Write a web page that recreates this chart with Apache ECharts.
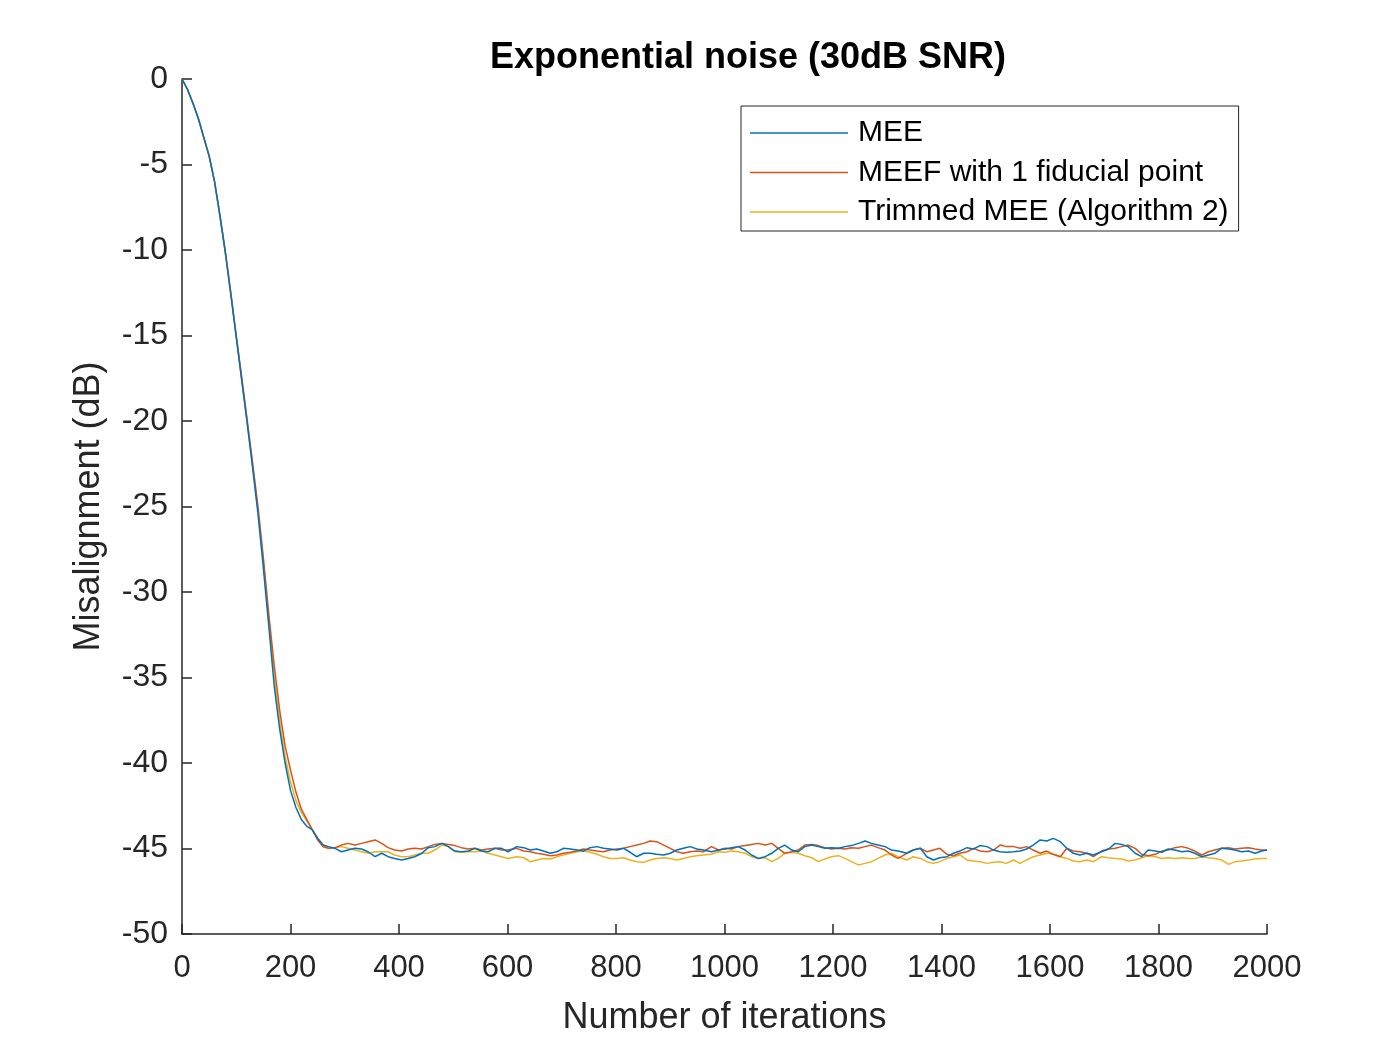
<!DOCTYPE html>
<html>
<head>
<meta charset="utf-8">
<script src="https://cdn.jsdelivr.net/npm/echarts@6/dist/echarts.min.js"></script>
<style>
html,body{margin:0;padding:0;background:#fff;}
#chart{width:1400px;height:1050px;}
</style>
</head>
<body>
<div id="chart"></div>
<script>
// ---- data ----
const titleText = 'Exponential noise (30dB SNR)';
const xAxisName = 'Number of iterations';
const yAxisName = 'Misalignment (dB)';
const seriesNames = ['MEE', 'MEEF with 1 fiducial point', 'Trimmed MEE (Algorithm 2)'];
const xTicks = [0, 200, 400, 600, 800, 1000, 1200, 1400, 1600, 1800, 2000];
const yTicks = [0, -5, -10, -15, -20, -25, -30, -35, -40, -45, -50];

const iterations = [
  0, 10, 20, 30, 40, 50, 60, 70, 80, 90, 100, 110, 120, 130, 140, 150, 160, 170, 180, 190, 200, 210, 220, 230, 240, 250, 260,
  270, 282, 294, 306, 319, 331, 343, 356, 368, 380, 392, 405, 417, 429, 442, 454, 466, 479, 491, 503, 515, 528, 540, 552, 564, 577, 589, 601,
  617, 630, 642, 654, 666, 679, 691, 703, 716, 728, 740, 752, 765, 777, 789, 802, 814, 826, 838, 851, 863, 875, 888, 900, 912, 924, 937, 949, 961,
  976, 989, 1001, 1013, 1025, 1038, 1050, 1062, 1075, 1087, 1099, 1111, 1124, 1136, 1148, 1161, 1173, 1185, 1197, 1210, 1222, 1234, 1247, 1259, 1271, 1283, 1296, 1308, 1320,
  1336, 1348, 1361, 1373, 1385, 1397, 1410, 1422, 1434, 1447, 1459, 1471, 1484, 1496, 1508, 1520, 1533, 1545, 1557, 1569, 1582, 1594, 1606, 1619, 1631, 1643, 1655, 1668, 1680,
  1695, 1708, 1720, 1732, 1744, 1757, 1769, 1781, 1794, 1806, 1818, 1830, 1843, 1855, 1867, 1880, 1892, 1904, 1916, 1929, 1941, 1953, 1966, 1978, 1990, 2000
];

const mee = [
  0, -0.6, -1.4, -2.3, -3.4, -4.5, -6.0, -8.0, -10.2, -12.6, -15.1, -17.6, -20.1, -22.7, -25.4, -28.6, -32.0, -35.5, -38.0, -40.0, -41.6, -42.6, -43.3, -43.7, -43.9, -44.4, -44.8,
  -44.89, -44.99, -45.19, -45.09, -44.99, -45.03, -45.19, -45.48, -45.28, -45.48, -45.58, -45.67, -45.58, -45.48, -45.28, -44.95, -44.89, -44.70, -44.89, -45.15, -45.19, -45.15, -44.99, -45.15, -45.19, -44.99, -44.99, -45.19,
  -44.89, -44.95, -45.09, -45.03, -45.15, -45.28, -45.19, -44.99, -45.03, -45.09, -45.15, -44.95, -44.89, -44.99, -45.03, -45.09, -44.99, -45.22, -45.48, -45.28, -45.28, -45.34, -45.38, -45.28, -45.09, -44.99, -44.89, -45.03, -45.09,
  -45.19, -45.09, -45.03, -44.95, -44.89, -45.09, -45.38, -45.58, -45.48, -45.28, -44.99, -44.80, -45.09, -45.19, -44.89, -44.80, -44.89, -44.99, -44.95, -44.99, -44.89, -44.83, -44.70, -44.56, -44.70, -44.80, -44.89, -45.09, -45.15,
  -45.28, -45.09, -44.99, -45.48, -45.67, -45.54, -45.48, -45.28, -45.15, -44.95, -45.03, -44.83, -44.89, -45.09, -45.19, -45.22, -45.19, -45.15, -45.03, -44.80, -44.50, -44.56, -44.41, -44.60, -44.99, -45.28, -45.38, -45.28, -45.38,
  -45.19, -45.03, -44.70, -44.76, -44.89, -45.28, -45.48, -45.09, -45.15, -45.22, -45.03, -45.09, -45.19, -45.15, -45.28, -45.48, -45.38, -45.28, -44.99, -45.03, -45.09, -45.19, -45.15, -45.28, -45.15, -45.09
];

const meef = [
  0, -0.6, -1.4, -2.3, -3.4, -4.5, -6.0, -8.0, -10.1, -12.5, -15.0, -17.4, -19.9, -22.4, -25.0, -28.0, -31.3, -34.3, -36.9, -39.0, -40.4, -41.7, -42.7, -43.3, -43.9, -44.5, -44.9,
  -44.99, -44.95, -44.80, -44.70, -44.80, -44.70, -44.60, -44.50, -44.70, -44.95, -45.09, -45.15, -45.03, -44.99, -45.03, -44.89, -44.76, -44.70, -44.76, -44.83, -44.95, -45.03, -44.99, -45.09, -45.03, -44.99, -45.09, -45.09,
  -44.99, -45.15, -45.19, -45.28, -45.34, -45.42, -45.38, -45.28, -45.22, -45.15, -45.03, -45.09, -45.15, -45.19, -45.09, -45.03, -44.99, -44.89, -44.80, -44.70, -44.56, -44.60, -44.80, -44.99, -45.19, -45.28, -45.19, -45.15, -45.19,
  -44.89, -45.09, -44.99, -45.03, -44.89, -44.83, -44.76, -44.70, -44.80, -44.70, -44.99, -45.28, -45.19, -45.09, -44.80, -44.76, -44.83, -44.95, -45.03, -44.99, -45.03, -44.95, -44.99, -44.89, -44.80, -44.95, -45.09, -45.38, -45.58,
  -45.28, -45.09, -44.99, -45.19, -45.09, -44.99, -45.34, -45.42, -45.28, -45.19, -44.99, -45.15, -45.19, -45.09, -44.80, -44.89, -44.89, -44.99, -44.89, -45.09, -45.28, -45.15, -45.34, -45.48, -44.99, -45.15, -45.19, -45.28, -45.48,
  -45.15, -45.03, -44.99, -44.89, -44.80, -44.99, -45.34, -45.42, -45.34, -45.15, -45.09, -44.95, -44.89, -44.99, -45.15, -45.38, -45.19, -45.09, -44.99, -44.95, -45.03, -44.99, -44.95, -45.03, -45.09, -45.09
];

const trimmed = [
  0, -0.6, -1.4, -2.3, -3.4, -4.5, -6.0, -8.0, -10.2, -12.6, -15.1, -17.6, -20.0, -22.6, -25.2, -28.3, -31.7, -34.9, -37.5, -39.6, -41.1, -42.2, -42.9, -43.4, -43.9, -44.4, -44.8,
  -44.99, -44.95, -44.89, -44.99, -45.09, -45.19, -45.28, -45.19, -45.19, -45.19, -45.38, -45.48, -45.48, -45.38, -45.28, -45.28, -45.09, -44.80, -44.89, -45.19, -45.22, -45.19, -45.19, -45.15, -45.28, -45.38, -45.48, -45.58,
  -45.48, -45.54, -45.77, -45.67, -45.58, -45.61, -45.48, -45.38, -45.28, -45.19, -45.15, -45.22, -45.34, -45.48, -45.58, -45.58, -45.54, -45.67, -45.77, -45.81, -45.67, -45.58, -45.54, -45.58, -45.67, -45.58, -45.48, -45.42, -45.38,
  -45.34, -45.19, -45.22, -45.15, -45.19, -45.28, -45.48, -45.58, -45.54, -45.77, -45.58, -45.28, -45.22, -45.28, -45.42, -45.54, -45.77, -45.61, -45.48, -45.42, -45.58, -45.77, -45.96, -45.87, -45.77, -45.58, -45.38, -45.28, -45.48,
  -45.67, -45.48, -45.58, -45.77, -45.87, -45.77, -45.58, -45.48, -45.38, -45.67, -45.73, -45.77, -45.87, -45.81, -45.77, -45.87, -45.67, -45.87, -45.67, -45.48, -45.38, -45.28, -45.34, -45.48, -45.58, -45.73, -45.77, -45.67, -45.77,
  -45.48, -45.54, -45.58, -45.61, -45.73, -45.67, -45.54, -45.42, -45.48, -45.58, -45.54, -45.58, -45.54, -45.58, -45.58, -45.48, -45.54, -45.58, -45.67, -45.93, -45.77, -45.73, -45.67, -45.61, -45.58, -45.58
];

const colors = ['#0072BD', '#D95319', '#EDB120'];

// ---- chart ----
const FONT = '"Liberation Sans", Arial, Helvetica, sans-serif';
const AXIS_COLOR = '#262626';
const chart = echarts.init(document.getElementById('chart'), null, {renderer: 'canvas'});

function pairs(vals) { return iterations.map((x, i) => [x, vals[i]]); }

const seriesData = [mee, meef, trimmed];

chart.setOption({
  backgroundColor: '#ffffff',
  animation: false,
  title: {
    text: titleText,
    left: 743,
    top: 35,
    textAlign: 'center',
    textStyle: {fontFamily: FONT, fontSize: 36, fontWeight: 'bold', color: '#000'}
  },
  grid: {left: 182, right: 133, top: 79, bottom: 116, containLabel: false},
  legend: {
    orient: 'vertical',
    left: 741,
    top: 106,
    padding: [12, 10, 4, 9],
    itemWidth: 98,
    itemHeight: 1.5,
    itemGap: 9.5,
    borderColor: AXIS_COLOR,
    borderWidth: 1,
    backgroundColor: '#fff',
    textStyle: {fontFamily: FONT, fontSize: 30, color: '#000', padding: [0, 0, 0, 5]},
    data: seriesNames.map((n) => ({name: n, icon: 'rect'}))
  },
  xAxis: {
    type: 'value',
    min: xTicks[0],
    max: xTicks[xTicks.length - 1],
    interval: xTicks[1] - xTicks[0],
    name: xAxisName,
    nameLocation: 'middle',
    nameGap: 66,
    nameTextStyle: {fontFamily: FONT, fontSize: 36, color: AXIS_COLOR},
    axisLine: {show: true, onZero: false, lineStyle: {color: AXIS_COLOR, width: 1.5}},
    axisTick: {show: true, inside: true, length: 10, lineStyle: {color: AXIS_COLOR, width: 1.5}},
    axisLabel: {fontFamily: FONT, fontSize: 31, color: AXIS_COLOR, margin: 19, formatter: (v) => String(v)},
    splitLine: {show: false}
  },
  yAxis: {
    type: 'value',
    min: yTicks[yTicks.length - 1],
    max: yTicks[0],
    interval: 5,
    name: yAxisName,
    nameLocation: 'middle',
    nameGap: 75,
    nameTextStyle: {fontFamily: FONT, fontSize: 36, color: AXIS_COLOR},
    axisLine: {show: true, onZero: false, lineStyle: {color: AXIS_COLOR, width: 1.5}},
    axisTick: {show: true, inside: true, length: 10, lineStyle: {color: AXIS_COLOR, width: 1.5}},
    axisLabel: {fontFamily: FONT, fontSize: 32, color: AXIS_COLOR, margin: 14, formatter: (v) => String(v)},
    splitLine: {show: false}
  },
  series: seriesNames.map((name, i) => ({
    name: name,
    type: 'line',
    data: pairs(seriesData[i]),
    showSymbol: false,
    symbol: 'none',
    smooth: false,
    color: colors[i],
    lineStyle: {color: colors[i], width: 1.5},
    z: 3 - i
  }))
});
</script>
</body>
</html>
